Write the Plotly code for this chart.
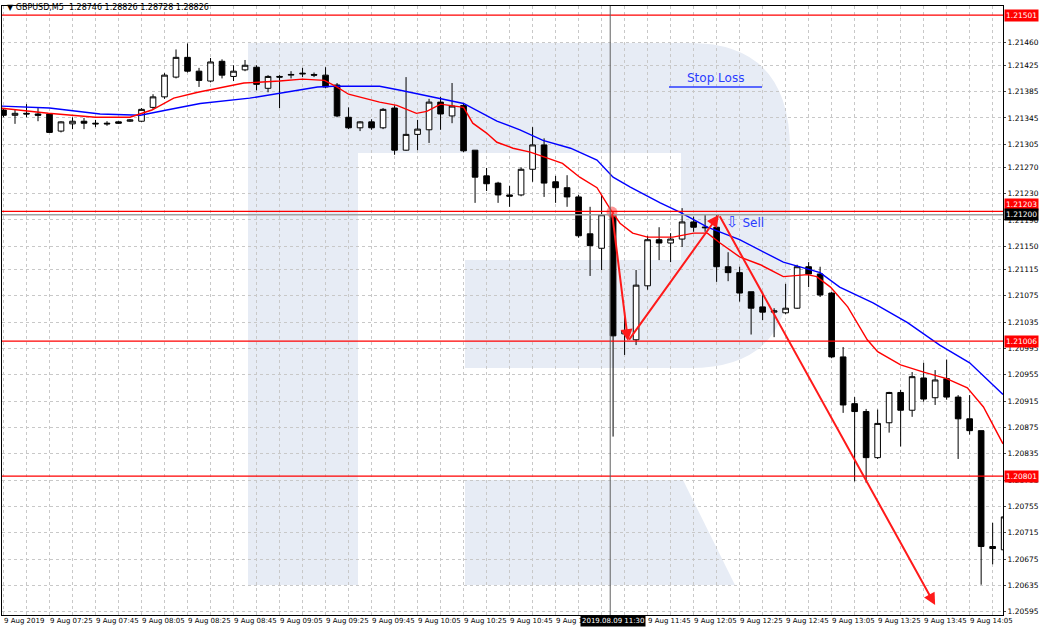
import plotly.graph_objects as go

# ---------------- data ----------------
times = ["07:05","07:10","07:15","07:20","07:25","07:30","07:35","07:40","07:45","07:50","07:55",
         "08:00","08:05","08:10","08:15","08:20","08:25","08:30","08:35","08:40","08:45","08:50","08:55",
         "09:00","09:05","09:10","09:15","09:20","09:25","09:30","09:35","09:40","09:45","09:50","09:55",
         "10:00","10:05","10:10","10:15","10:20","10:25","10:30","10:35","10:40","10:45","10:50","10:55",
         "11:00","11:05","11:10","11:15","11:20","11:25","11:30","11:35","11:40","11:45","11:50","11:55",
         "12:00","12:05","12:10","12:15","12:20","12:25","12:30","12:35","12:40","12:45","12:50","12:55",
         "13:00","13:05","13:10","13:15","13:20","13:25","13:30","13:35","13:40","13:45","13:50","13:55",
         "14:00","14:05","14:10","14:15","14:20"]

opens = [1.21357,1.21349,1.21352,1.21351,1.21351,1.21325,1.21336,1.21340,1.21337,1.21337,1.21339,
         1.21340,1.21340,1.21361,1.21377,1.21407,1.21437,1.21416,1.21401,1.21431,1.21408,1.21418,1.21422,
         1.21390,1.21408,1.21410,1.21413,1.21411,1.21410,1.21395,1.21346,1.21330,1.21339,1.21330,1.21360,
         1.21296,1.21320,1.21327,1.21369,1.21348,1.21364,1.21296,1.21257,1.21246,1.21228,1.21228,1.21267,
         1.21304,1.21248,1.21239,1.21225,1.21169,1.21147,1.21198,1.21017,1.21008,1.21090,1.21160,1.21155,
         1.21161,1.21187,1.21178,1.21179,1.21119,1.21110,1.21081,1.21058,1.21050,1.21049,1.21056,1.21119,
         1.21108,1.21079,1.20982,1.20911,1.20899,1.20829,1.20882,1.20928,1.20901,1.20950,1.20920,1.20949,
         1.20921,1.20888,1.20870,1.20694,1.20689]
highs = [1.21360,1.21357,1.21366,1.21360,1.21352,1.21340,1.21346,1.21345,1.21342,1.21340,1.21340,
         1.21343,1.21360,1.21381,1.21413,1.21449,1.21458,1.21421,1.21436,1.21434,1.21425,1.21433,1.21425,
         1.21410,1.21410,1.21416,1.21421,1.21414,1.21422,1.21398,1.21361,1.21340,1.21343,1.21360,1.21364,
         1.21407,1.21342,1.21374,1.21377,1.21398,1.21367,1.21296,1.21269,1.21248,1.21242,1.21270,1.21331,
         1.21314,1.21257,1.21258,1.21228,1.21210,1.21228,1.21202,1.21050,1.21114,1.21166,1.21179,1.21170,
         1.21208,1.21195,1.21198,1.21198,1.21141,1.21119,1.21081,1.21081,1.21056,1.21093,1.21122,1.21126,
         1.21119,1.21081,1.20997,1.20921,1.20903,1.20902,1.20929,1.20932,1.20959,1.20973,1.20962,1.20978,
         1.20924,1.20924,1.20870,1.20730,1.20750]
lows = [1.21346,1.21336,1.21346,1.21340,1.21322,1.21323,1.21328,1.21328,1.21331,1.21333,1.21336,
        1.21339,1.21339,1.21358,1.21374,1.21405,1.21414,1.21392,1.21399,1.21405,1.21401,1.21416,1.21387,
        1.21384,1.21360,1.21405,1.21407,1.21407,1.21390,1.21346,1.21328,1.21325,1.21327,1.21328,1.21289,
        1.21295,1.21296,1.21307,1.21327,1.21337,1.21293,1.21216,1.21234,1.21216,1.21210,1.21226,1.21248,
        1.21225,1.21216,1.21210,1.21163,1.21105,1.21114,1.20861,1.20985,1.21000,1.21084,1.21129,1.21126,
        1.21149,1.21172,1.21172,1.21096,1.21097,1.21066,1.21016,1.21038,1.21012,1.21047,1.21055,1.21088,
        1.21073,1.20980,1.20897,1.20793,1.20791,1.20827,1.20867,1.20846,1.20891,1.20914,1.20909,1.20917,
        1.20827,1.20864,1.20636,1.20667,1.20682]
closes = [1.21349,1.21352,1.21351,1.21349,1.21323,1.21339,1.21340,1.21337,1.21336,1.21336,1.21337,
          1.21342,1.21358,1.21377,1.21410,1.21437,1.21416,1.21402,1.21430,1.21410,1.21416,1.21425,1.21396,
          1.21408,1.21407,1.21411,1.21412,1.21410,1.21392,1.21348,1.21330,1.21339,1.21330,1.21358,1.21296,
          1.21320,1.21328,1.21369,1.21351,1.21363,1.21295,1.21255,1.21245,1.21228,1.21226,1.21267,1.21304,
          1.21246,1.21239,1.21225,1.21166,1.21151,1.21198,1.21014,1.21022,1.21091,1.21160,1.21155,1.21161,
          1.21187,1.21179,1.21179,1.21119,1.21110,1.21079,1.21056,1.21050,1.21052,1.21056,1.21119,1.21108,
          1.21076,1.20982,1.20909,1.20899,1.20829,1.20881,1.20928,1.20901,1.20952,1.20918,1.20947,1.20921,
          1.20888,1.20870,1.20694,1.20691,1.20739]

# moving averages sampled at bar positions
ma_fast_x = [-0.3,3.9,8,11,12.9,14.8,16.9,20.9,24,26,27.9,28.9,30,31.3,32.7,34.2,35.9,36.8,38,40,40.8,42,
             42.9,44.3,45.8,47.3,48.6,50.1,51.6,52.7,53.6,54.7,56,58.2,60,61.2,62.3,64,65.8,67.8,69.9,70.7,
             71.9,73.4,75.1,76,78,80,82,83.8,85.2,86.9]
ma_fast_y = [1.21360,1.21352,1.21346,1.21346,1.21357,1.21375,1.21384,1.21398,1.21401,1.21404,1.21402,1.21393,
             1.21381,1.21375,1.21369,1.21364,1.21352,1.21355,1.21366,1.21361,1.21337,1.21322,1.21308,1.21299,
             1.21293,1.21284,1.21276,1.21255,1.21239,1.21208,1.21185,1.21170,1.21164,1.21164,1.21170,1.21170,
             1.21155,1.21134,1.21122,1.21104,1.21107,1.21104,1.21088,1.21058,1.21008,1.20990,1.20970,1.20959,
             1.20949,1.20935,1.20906,1.20850]
ma_slow_x = [-0.3,4,8.4,11.9,14.2,17.1,21.4,24.3,27.3,28.7,32.7,34.5,37.3,40,42.9,44.9,46.9,49.3,51.6,53,
             54.5,57.1,58.8,61.2,64,67.8,71,72.7,75.6,78.6,81.4,84,86.9]
ma_slow_y = [1.21363,1.21360,1.21351,1.21349,1.21357,1.21367,1.21375,1.21383,1.21392,1.21393,1.21393,1.21387,
             1.21377,1.21367,1.21340,1.21327,1.21311,1.21299,1.21281,1.21255,1.21240,1.21216,1.21202,1.21179,
             1.21160,1.21126,1.21110,1.21088,1.21064,1.21034,1.21000,1.20973,1.20925]

levels = [1.21501, 1.21006, 1.20801]
current_price = 1.21200
zz_x = [52.9, 54.3, 62.2, 81.0]
zz_y = [1.21202, 1.21006, 1.21198, 1.20605]
ytick_vals = [1.21460,1.21425,1.21385,1.21345,1.21305,1.21270,1.21230,1.21190,1.21150,1.21115,1.21075,
              1.21035,1.20995,1.20955,1.20915,1.20875,1.20835,1.20795,1.20755,1.20715,1.20675,1.20635,1.20595]

# ---------------- figure ----------------
X0, X1 = -0.13, 86.9
Y0, Y1 = 1.20590, 1.21515
W, H = 1039, 630
L, R, T, B = 2, 36, 6, 15

def px(x):  # pixel -> paper x
    return (x - L) / (W - L - R)

def py(y):  # pixel -> paper y
    return 1 - (y - T) / (H - T - B)

xs = list(range(len(opens)))
fig = go.Figure()

wm = "#e7ecf5"
shapes = []
# watermark "R"
shapes.append(dict(type="path", xref="paper", yref="paper", layer="below", line=dict(width=0), fillcolor=wm,
    path=f"M{px(248)},{py(43)} L{px(690)},{py(43)} Q{px(790)},{py(43)} {px(790)},{py(150)} "
         f"L{px(790)},{py(268)} Q{px(790)},{py(368)} {px(690)},{py(368)} L{px(465)},{py(368)} "
         f"L{px(465)},{py(260)} L{px(681)},{py(260)} L{px(681)},{py(153)} L{px(358)},{py(153)} "
         f"L{px(358)},{py(585)} L{px(248)},{py(585)} Z"))
shapes.append(dict(type="path", xref="paper", yref="paper", layer="below", line=dict(width=0), fillcolor=wm,
    path=f"M{px(465)},{py(480)} L{px(683)},{py(480)} L{px(735)},{py(585)} L{px(465)},{py(585)} Z"))
# horizontal levels
for lv in levels:
    shapes.append(dict(type="line", xref="paper", yref="y", x0=0, x1=1, y0=lv, y1=lv,
                       line=dict(color="#ff0000", width=1.2)))
shapes.append(dict(type="line", xref="paper", yref="y", x0=0, x1=1, y0=current_price + 0.00003,
                   y1=current_price + 0.00003, line=dict(color="#ff0000", width=1.2)))
shapes.append(dict(type="line", xref="paper", yref="y", x0=0, x1=1, y0=current_price - 0.00002,
                   y1=current_price - 0.00002, line=dict(color="#a0a0a0", width=1.5)))
# crosshair vertical
shapes.append(dict(type="line", xref="x", yref="paper", x0=52.75, x1=52.75, y0=0, y1=1,
                   line=dict(color="#606060", width=1)))
# stop loss underline
shapes.append(dict(type="line", xref="paper", yref="paper", x0=px(669), x1=px(762), y0=py(87), y1=py(87),
                   line=dict(color="#2a3cff", width=1.5)))

fig.add_trace(go.Candlestick(x=xs, open=opens, high=highs, low=lows, close=closes,
    increasing=dict(line=dict(color="#000000", width=1), fillcolor="#ffffff"),
    decreasing=dict(line=dict(color="#000000", width=1), fillcolor="#000000"),
    whiskerwidth=0, showlegend=False, hoverinfo="skip"))
fig.add_trace(go.Scatter(x=ma_slow_x, y=ma_slow_y, mode="lines", line=dict(color="#0000ff", width=1.4),
                         showlegend=False, hoverinfo="skip"))
fig.add_trace(go.Scatter(x=ma_fast_x, y=ma_fast_y, mode="lines", line=dict(color="#ff0000", width=1.4),
                         showlegend=False, hoverinfo="skip"))
fig.add_trace(go.Scatter(x=[zz_x[0]], y=[zz_y[0]], mode="markers",
                         marker=dict(color="rgba(255,80,80,0.6)", size=11), showlegend=False, hoverinfo="skip"))

ann = []
for i in range(3):
    ann.append(dict(x=zz_x[i + 1], y=zz_y[i + 1], ax=zz_x[i], ay=zz_y[i], xref="x", yref="y",
                    axref="x", ayref="y", showarrow=True, arrowhead=2, arrowsize=1.2, arrowwidth=2,
                    arrowcolor="#ff1a1a", text=""))
font = "DejaVu Sans"
ann.append(dict(x=px(5), y=py(8), xref="paper", yref="paper", xanchor="left", yanchor="middle",
                text="▼ GBPUSD,M5  1.28746 1.28826 1.28728 1.28826", showarrow=False,
                font=dict(family=font, size=8, color="#000000")))
ann.append(dict(x=px(715), y=py(78), xref="paper", yref="paper", xanchor="center", yanchor="middle",
                text="Stop Loss", showarrow=False, font=dict(family=font, size=12, color="#2a3cff")))
ann.append(dict(x=px(724), y=py(222), xref="paper", yref="paper", xanchor="left", yanchor="middle",
                text="<span style='font-size:15px'>⇩</span> Sell", showarrow=False,
                font=dict(family=font, size=12, color="#2a3cff")))
# right price labels
lab_font = dict(family=font, size=7.5, color="#ffffff")
for lv in levels:
    ann.append(dict(x=1.0, y=lv, xref="paper", yref="y", xanchor="left", yanchor="middle", text=f"{lv:.5f}",
                    showarrow=False, bgcolor="#ff0000", font=lab_font, borderpad=1, xshift=1))
ann.append(dict(x=1.0, y=current_price + 0.00013, xref="paper", yref="y", xanchor="left", yanchor="middle",
                text="1.21203", showarrow=False, bgcolor="#ff0000", font=lab_font, borderpad=1, xshift=1))
ann.append(dict(x=1.0, y=current_price - 0.00002, xref="paper", yref="y", xanchor="left", yanchor="middle",
                text=f"{current_price:.5f}", showarrow=False, bgcolor="#000000", font=lab_font,
                borderpad=1, xshift=1))
# time labels
for i in range(0, len(times), 4):
    txt = "9 Aug 2019" if i == 0 else f"9 Aug {times[i]}"
    if i == 48:
        txt = "9 Aug 11"
    ann.append(dict(x=i, y=py(621), xref="x", yref="paper", xanchor="left", yanchor="middle", text=txt,
                    showarrow=False, xshift=-2, font=dict(family=font, size=7, color="#000000")))
ann.append(dict(x=53, y=py(621), xref="x", yref="paper", xanchor="center", yanchor="middle",
                text="2019.08.09 11:30", showarrow=False, bgcolor="#000000",
                font=dict(family=font, size=7, color="#ffffff"), borderpad=1))

fig.update_layout(
    width=W, height=H, margin=dict(l=L, r=R, t=T, b=B, autoexpand=False), plot_bgcolor="#ffffff",
    paper_bgcolor="#ffffff", shapes=shapes, annotations=ann, showlegend=False,
    xaxis=dict(range=[X0, X1], showticklabels=False, rangeslider=dict(visible=False), automargin=False,
               tickvals=list(range(0, 88, 2)), showgrid=True, gridcolor="#c8c8c8", griddash="dot",
               gridwidth=1, zeroline=False, showline=True, linecolor="#000000", mirror=True, ticks=""),
    yaxis=dict(range=[Y0, Y1], side="right", tickvals=ytick_vals, ticktext=[f"{v:.5f}" for v in ytick_vals],
               showgrid=True, gridcolor="#c8c8c8", griddash="dot", gridwidth=1, zeroline=False, automargin=False,
               showline=True, linecolor="#000000", mirror=True, ticks="outside", ticklen=2,
               tickfont=dict(family=font, size=7.5, color="#000000")),
)
fig.write_html("out.html", config={"displayModeBar": False},
               post_script="document.body.style.margin='0';document.body.style.overflow='hidden';")
